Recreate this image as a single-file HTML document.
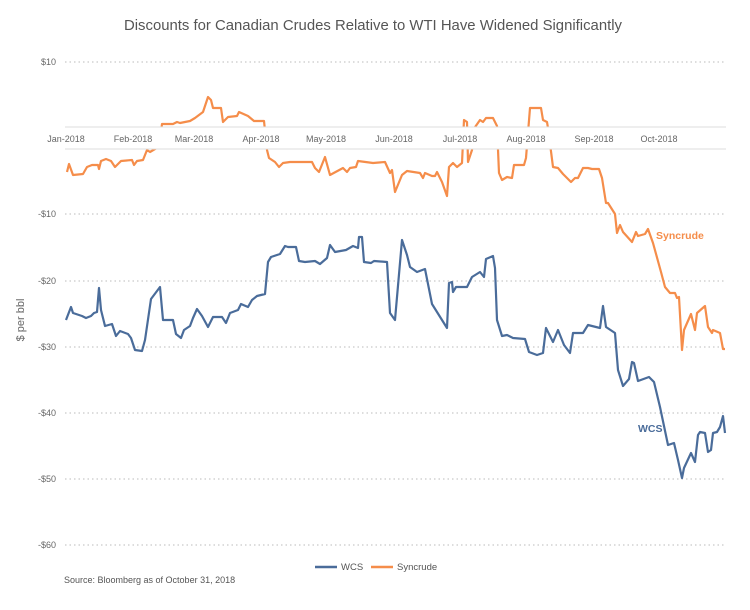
<!DOCTYPE html>
<html><head><meta charset="utf-8"><style>
body{margin:0;background:#fff;}
svg{display:block;font-family:"Liberation Sans",sans-serif;}
</style></head><body>
<svg width="750" height="610" viewBox="0 0 750 610" xmlns="http://www.w3.org/2000/svg">
<rect width="750" height="610" fill="#fff"/>
<text x="373" y="30" text-anchor="middle" font-size="15" fill="#555" textLength="498" lengthAdjust="spacingAndGlyphs">Discounts for Canadian Crudes Relative to WTI Have Widened Significantly</text>
<g stroke="#bbb" stroke-width="1" stroke-dasharray="1.5,3">
<line x1="65" y1="62" x2="726" y2="62"/><line x1="65" y1="214" x2="726" y2="214"/><line x1="65" y1="281" x2="726" y2="281"/><line x1="65" y1="347" x2="726" y2="347"/><line x1="65" y1="413" x2="726" y2="413"/><line x1="65" y1="479" x2="726" y2="479"/><line x1="65" y1="545" x2="726" y2="545"/>
</g>
<g font-size="9" fill="#666" text-anchor="end">
<text x="56" y="65">$10</text><text x="56" y="217">-$10</text><text x="56" y="284">-$20</text><text x="56" y="350">-$30</text><text x="56" y="416">-$40</text><text x="56" y="482">-$50</text><text x="56" y="548">-$60</text>
</g>
<text x="24" y="320" font-size="11" fill="#666" text-anchor="middle" transform="rotate(-90 24 320)">$ per bbl</text>
<polyline fill="none" stroke="#4a6c9a" stroke-width="2.2" stroke-linejoin="round" points="66,320 71,307 73,313 82,316 86,318 91,316 94,313 97,312 99,288 101,310 105,326 112,324 116,336 120,331 128,334 131,338 135,350 142,351 145,340 151,299 160,287 163,320 173,320 176,334 181,338 184,330 190,326 193,318 197,309 202,316 208,327 213,317 222,317 226,323 230,313 238,310 241,304 248,307 252,300 257,296 265,294 268,262 271,257 280,254 285,246 288,247 296,247 299,261 305,262 315,261 320,264 327,258 330,245 335,252 346,250 353,246 358,248 359,237 362,237 364,262 371,263 374,261 387,262 390,313 395,320 402,240 407,255 410,267 417,272 425,269 432,304 437,312 447,328 449,283 452,282 453,292 456,287 467,287 472,277 480,272 484,277 486,259 493,256 495,268 497,320 502,336 507,335 513,338 525,339 529,352 537,355 543,353 546,328 553,342 558,330 564,345 570,353 573,333 583,333 588,325 600,328 603,306 606,327 615,333 618,370 623,386 629,379 632,362 634,363 638,381 649,377 654,382 660,407 668,445 674,443 678,460 682,478 684,468 691,453 695,462 698,435 700,432 705,433 708,452 711,450 713,433 717,432 720,427 723,416 725,433"/>
<polyline fill="none" stroke="#f58d4a" stroke-width="2.2" stroke-linejoin="round" points="67,172 69,164 73,175 83,174 87,167 92,165 98,165 99,169 101,161 106,159 111,161 115,167 121,161 132,160 134,165 137,161 143,160 147,150 150,152 155,149 159,147 162,124 173,124 177,122 180,123 190,121 195,118 203,112 208,97 211,100 213,108 221,108 223,122 228,117 237,116 239,112 248,116 254,121 264,121 267,150 269,158 275,162 279,167 283,163 290,162 300,162 312,162 315,168 319,172 325,157 330,175 343,168 347,172 350,168 356,167 358,161 373,163 385,162 390,173 392,170 395,192 402,175 407,171 420,173 423,178 425,173 432,176 435,176 437,172 442,182 447,196 449,167 453,163 457,167 462,163 464,120 467,122 468,162 472,150 473,130 480,120 483,122 486,118 493,118 497,126 499,173 502,180 507,177 512,178 514,165 524,165 526,158 530,108 541,108 543,120 547,122 548,128 553,167 558,168 563,174 571,182 575,178 578,178 583,168 588,168 592,169 599,169 602,178 606,203 608,203 615,214 617,233 620,225 623,232 632,242 636,232 638,236 645,234 648,229 653,243 661,272 665,287 670,293 675,293 677,298 679,297 682,350 684,330 691,314 695,330 697,313 705,306 708,327 712,333 713,330 720,333 723,349 725,349"/>
<rect x="0" y="127" width="750" height="22" fill="#fff"/>
<line x1="65" y1="127" x2="726" y2="127" stroke="#ddd" stroke-width="1"/>
<line x1="65" y1="149" x2="726" y2="149" stroke="#ddd" stroke-width="1"/>
<g font-size="9" fill="#666" text-anchor="middle">
<text x="66" y="142">Jan-2018</text><text x="133" y="142">Feb-2018</text><text x="194" y="142">Mar-2018</text><text x="261" y="142">Apr-2018</text><text x="326" y="142">May-2018</text><text x="394" y="142">Jun-2018</text><text x="460" y="142">Jul-2018</text><text x="526" y="142">Aug-2018</text><text x="594" y="142">Sep-2018</text><text x="659" y="142">Oct-2018</text>
</g>
<text x="656" y="239" font-size="10.5" font-weight="bold" fill="#f58d4a">Syncrude</text>
<text x="638" y="432" font-size="10.5" font-weight="bold" fill="#4a6c9a">WCS</text>
<line x1="315" y1="567" x2="337" y2="567" stroke="#4a6c9a" stroke-width="2.5"/>
<text x="341" y="570" font-size="9.5" fill="#555">WCS</text>
<line x1="371" y1="567" x2="393" y2="567" stroke="#f58d4a" stroke-width="2.5"/>
<text x="397" y="570" font-size="9.5" fill="#555">Syncrude</text>
<text x="64" y="583" font-size="9" fill="#555">Source: Bloomberg as of October 31, 2018</text>
</svg>
</body></html>
